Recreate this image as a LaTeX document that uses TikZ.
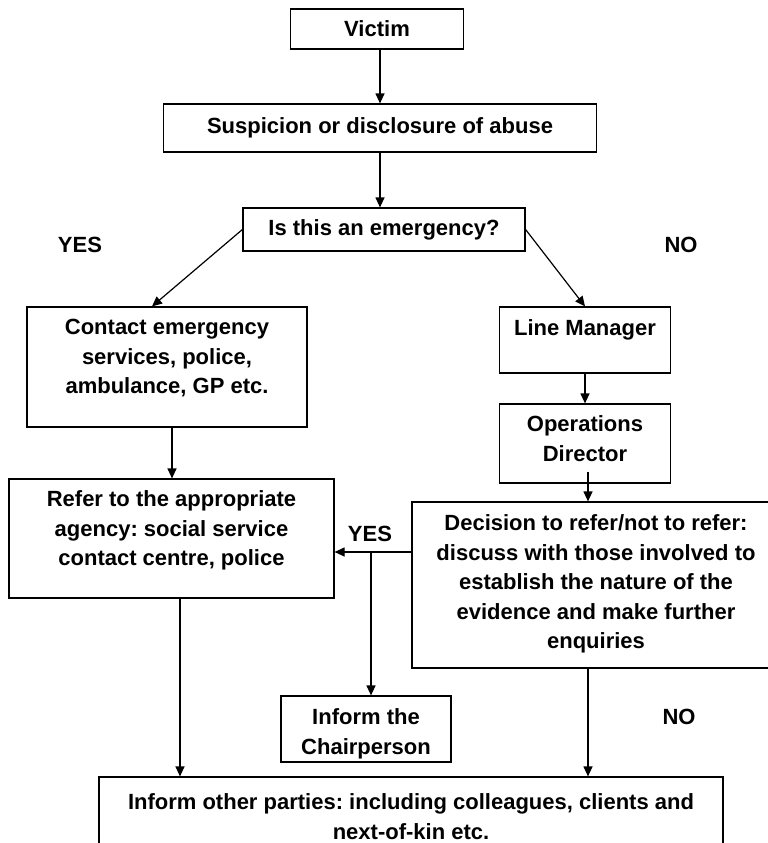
\documentclass[tikz,border=0pt]{standalone}
\usepackage{fontspec}
\setmainfont{Liberation Sans}
\usetikzlibrary{positioning,arrows.meta}
\newcommand{\flowfont}{\fontsize{22}{29.5}\selectfont\bfseries}
\frenchspacing

\begin{document}
\begin{tikzpicture}[x=1pt,y=-1pt,
  box/.style={draw,line width=1.2pt,inner sep=0pt,font=\flowfont},
  txt/.style={align=center,inner sep=0pt,font=\flowfont},
  lbl/.style={font=\flowfont},
  ar/.style={line width=1.2pt,-{Triangle[length=10pt,width=9pt]}}]
\useasboundingbox (0,0) rectangle (768,843);
\clip (0,0) rectangle (768,843);
% boxes
\node[box,minimum width=173pt,minimum height=40pt] (victim) at (377,29) {Victim};
\node[box,minimum width=433pt,minimum height=48pt] (susp) at (380,128) {Suspicion or disclosure of abuse};
\node[box,minimum width=282pt,minimum height=43pt] (emerg) at (384,229.5) {Is this an emergency?};
\node[box,minimum width=280pt,minimum height=120pt] (contact) at (167,367) {};
\node[box,minimum width=325pt,minimum height=119pt] (refer) at (171.5,538.5) {};
\node[box,minimum width=171pt,minimum height=66pt] (linemgr) at (585,340) {};
\node[box,minimum width=171pt,minimum height=79pt] (opsdir) at (585,443.5) {};
\node[box,minimum width=368pt,minimum height=166pt] (decide) at (596,585) {};
\node[box,minimum width=170pt,minimum height=66pt] (chair) at (366,729) {};
\node[box,minimum width=624pt,minimum height=110pt] (inform) at (411,832) {};
% texts
\node[txt,below=13pt of contact.north] (contact-t) {Contact emergency\\services, police,\\ambulance, GP etc.};
\node[txt,below=12pt of refer.north] (refer-t) {Refer to the appropriate\\agency: social service\\contact centre, police};
\node[txt,below=13pt of linemgr.north] (linemgr-t) {Line Manager};
\node[txt,below=12pt of opsdir.north] (opsdir-t) {Operations\\Director};
\node[txt,below=13pt of decide.north] (decide-t) {Decision to refer/not to refer:\\discuss with those involved to\\establish the nature of the\\evidence and make further\\enquiries};
\node[txt,below=13pt of chair.north] (chair-t) {Inform the\\Chairperson};
\node[txt,below=17pt of inform.north] (inform-t) {Inform other parties: including colleagues, clients and\\next-of-kin etc.};
% labels
\node[lbl] (yes-a) at (80,245) {YES};
\node[lbl] (no-a) at (681,245) {NO};
\node[lbl] (yes-b) at (370,534) {YES};
\node[lbl] (no-b) at (679,717) {NO};
% arrows
\draw[ar] (victim.south -| susp) -- (susp.north);
\draw[ar] (susp.south) -- (susp.south |- emerg.north);
\draw[ar] (emerg.west) -- ([xshift=-15pt]contact.north);
\draw[ar] (emerg.east) -- (linemgr.north);
\draw[ar] (linemgr) -- (opsdir);
\draw[ar] ([shift={(3pt,12pt)}]opsdir.south) -- ([xshift=3pt]opsdir.south |- decide.north);
\draw[ar] ([xshift=5pt]contact.south) -- ([xshift=5pt]contact.south |- refer.north);
\coordinate (yesj) at (371,552);
\draw[ar] (decide.west |- yesj) -- (refer.east |- yesj);
\draw[ar] (yesj) -- (yesj |- chair.north);
\draw[ar] ([xshift=8.5pt]refer.south) -- ([xshift=8.5pt]refer.south |- inform.north);
\draw[ar] ([xshift=-8pt]decide.south) -- ([xshift=-8pt]decide.south |- inform.north);
\end{tikzpicture}
\end{document}
